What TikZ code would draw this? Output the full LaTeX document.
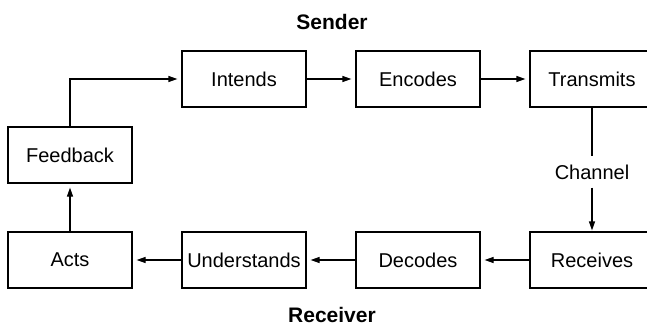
\documentclass[tikz,border=0pt]{standalone}
\usepackage{fontspec}
\setmainfont{Liberation Sans}
\usetikzlibrary{arrows.meta}
\begin{document}
\begin{tikzpicture}[x=1pt,y=-1pt,
  box/.style={draw, line width=1.2pt, minimum width=124pt, minimum height=56pt, inner sep=0pt, font=\fontsize{20}{23}\selectfont},
  conn/.style={line width=1.2pt, -{Triangle[length=9pt,width=6pt]}, shorten >=4pt},
  lbl/.style={font=\fontsize{20}{23}\selectfont},
  ttl/.style={font=\bfseries\fontsize{21}{24}\selectfont}]
\useasboundingbox (0,0) rectangle (647,326);
\clip (0,0) rectangle (647,326);
\node[ttl] (sender) at (332,22) {Sender};
\node[ttl] (receiver) at (332,314.5) {Receiver};
\node[box] (intends) at (244,79) {Intends};
\node[box] (encodes) at (418,79) {Encodes};
\node[box] (transmits) at (592,79) {Transmits};
\node[box] (feedback) at (70,155) {Feedback};
\node[box] (acts) at (70,260) {Acts};
\node[box] (understands) at (244,260) {Understands};
\node[box] (decodes) at (418,260) {Decodes};
\node[box] (receives) at (592,260) {Receives};
\node[lbl, inner sep=8pt] (channel) at (592,172) {Channel};
\draw[conn] (feedback.north) |- (intends.west);
\draw[conn] (intends) -- (encodes);
\draw[conn] (encodes) -- (transmits);
\draw[line width=1.2pt] (transmits.south) -- (channel.north);
\draw[conn, shorten >=1pt] (channel.south) -- (receives.north);
\draw[conn] (receives) -- (decodes);
\draw[conn] (decodes) -- (understands);
\draw[conn] (understands) -- (acts);
\draw[conn] (acts) -- (feedback);
\end{tikzpicture}
\end{document}
